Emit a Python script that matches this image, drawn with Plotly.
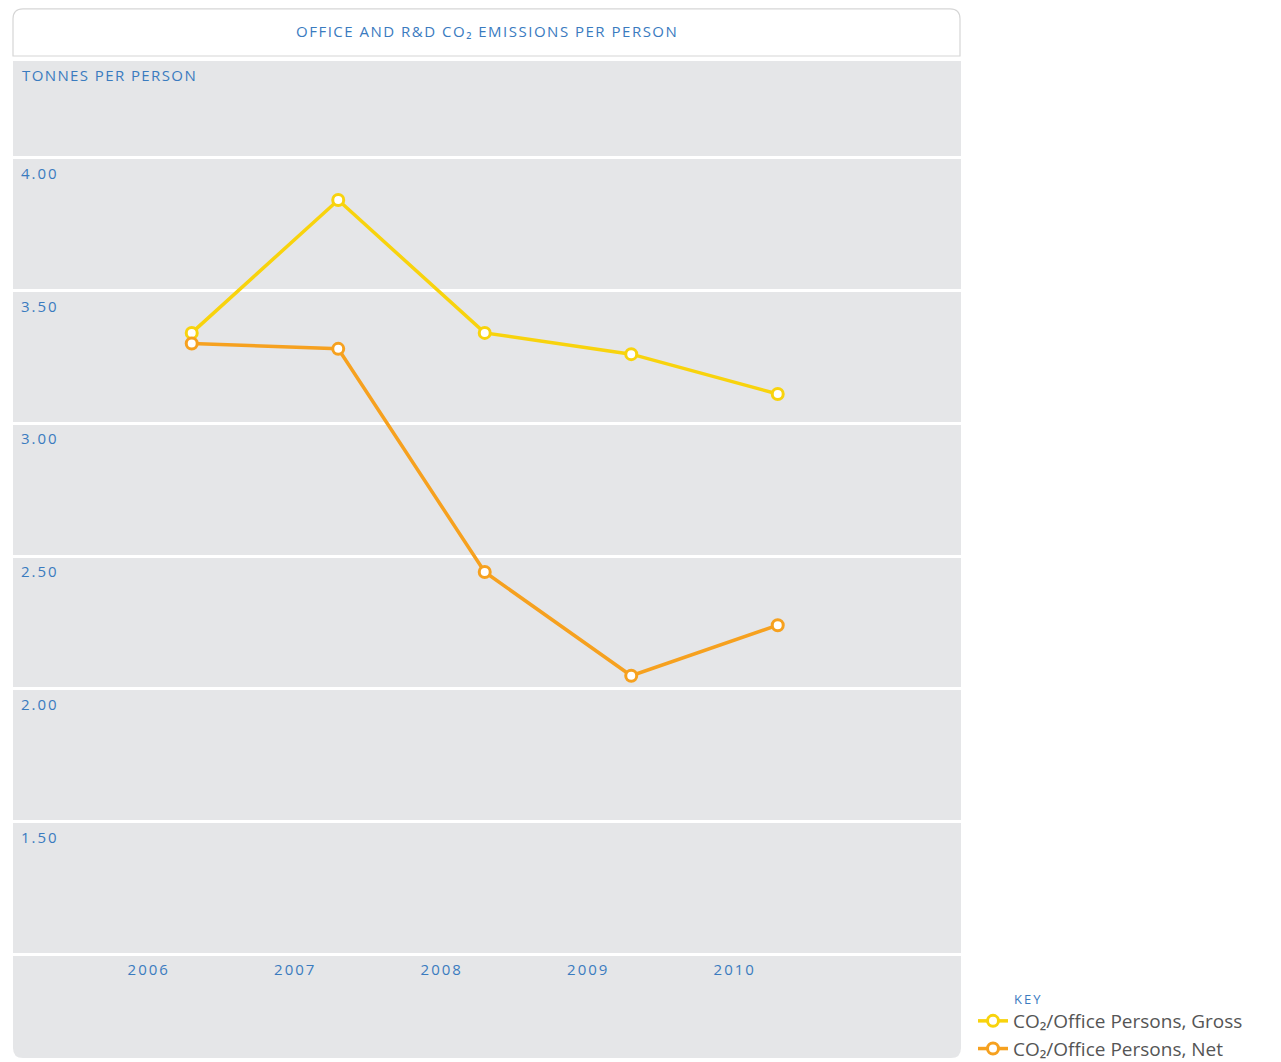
import plotly.graph_objects as go

# ---- data ----
years = ["2006", "2007", "2008", "2009", "2010"]
gross = [3.34, 3.84, 3.34, 3.26, 3.11]
net = [3.30, 3.28, 2.44, 2.05, 2.24]
y_ticks = [1.0, 1.5, 2.0, 2.5, 3.0, 3.5, 4.0]
y_ticklabels = ["", "1.50", "2.00", "2.50", "3.00", "3.50", "4.00"]
series_names = ["CO₂/Office Persons, Gross", "CO₂/Office Persons, Net"]
title_text = "OFFICE AND R&D CO₂ EMISSIONS PER PERSON"
ytitle_text = "TONNES PER PERSON"
key_text = "KEY"

# ---- style ----
BLUE = "#3a7bbf"
GREY_BG = "#e5e6e8"
YELLOW = "#f8d30d"
ORANGE = "#f6a11f"
FONT = "Open Sans, Noto Sans, sans-serif"

OFF = 8  # page body margin
W, H = 1281 - OFF, 1062 - OFF
# plot area in screen pixels
SL, SR, ST, SB = 13, 961, 61, 957
L, T = SL - OFF, ST - OFF
R = W - (SR - OFF)
B = H - (SB - OFF)
plot_w = SR - SL
plot_h = SB - ST


def px_x(sx):
    return (sx - SL) / plot_w


def px_y(sy):
    return (SB - sy) / plot_h


def ls(text, sp):
    return f'<span style="letter-spacing:{sp}px">{text}</span>'


fig = go.Figure()
colors = [YELLOW, ORANGE]
for name, vals, col in zip(series_names, [gross, net], colors):
    fig.add_trace(go.Scatter(
        x=years, y=vals, name=name, mode="lines+markers",
        line=dict(color=col, width=3.5),
        marker=dict(symbol="circle", size=11, color="white",
                    line=dict(color=col, width=3)),
        cliponaxis=False,
    ))

# rounded shapes
rx, ry = 10 / plot_w, 10 / plot_h
x0, x1 = 0.0, px_x(960)
yb, yt = px_y(56), px_y(OFF + 0.8)
title_path = (f"M {x0},{yb} L {x0},{yt-ry} Q {x0},{yt} {x0+rx},{yt} "
              f"L {x1-rx},{yt} Q {x1},{yt} {x1},{yt-ry} L {x1},{yb} Z")
bx1 = 1.0
bt, bb = 0.0, px_y(1058)
band_path = (f"M 0,{bt} L {bx1},{bt} L {bx1},{bb+ry} Q {bx1},{bb} {bx1-rx},{bb} "
             f"L {rx},{bb} Q 0,{bb} 0,{bb+ry} Z")

fig.update_layout(
    width=W, height=H,
    margin=dict(l=L, r=R, t=T, b=B, pad=0, autoexpand=False),
    paper_bgcolor="white",
    plot_bgcolor=GREY_BG,
    font=dict(family=FONT, color=BLUE),
    shapes=[
        dict(type="path", path=title_path, xref="paper", yref="paper",
             fillcolor="white", line=dict(color="#d6d6d6", width=1.2), layer="below"),
        dict(type="path", path=band_path, xref="paper", yref="paper",
             fillcolor=GREY_BG, line=dict(width=0), layer="below"),
    ],
    annotations=[
        dict(text=ls(title_text, 1.5), x=0.5, y=px_y(31), xref="paper", yref="paper",
             xanchor="center", yanchor="middle", showarrow=False,
             font=dict(size=15, color=BLUE)),
        dict(text=ls(ytitle_text, 1.4), x=px_x(20), y=px_y(75), xref="paper", yref="paper",
             xanchor="left", yanchor="middle", showarrow=False,
             font=dict(size=15, color=BLUE)),
        dict(text=ls(key_text, 2), x=px_x(1012), y=px_y(999), xref="paper", yref="paper",
             xanchor="left", yanchor="middle", showarrow=False,
             font=dict(size=13, color=BLUE)),
    ],
    xaxis=dict(
        type="category", categoryorder="array", categoryarray=years,
        range=[-1.22, 5.251], showgrid=False, zeroline=False, showline=False,
        ticks="", tickfont=dict(size=15, color=BLUE), ticklabelshift=-43,
        ticklabelstandoff=2,
        tickvals=years, ticktext=[ls(y, 2) for y in years], fixedrange=True,
    ),
    yaxis=dict(
        range=[0.9913, 4.3632], tickvals=y_ticks,
        ticktext=[ls(t, 2) for t in y_ticklabels],
        showgrid=True, gridcolor="white", gridwidth=3.3,
        zeroline=False, showline=False, ticks="",
        ticklabelposition="inside", ticklabelshift=16, ticklabelstandoff=5,
        tickfont=dict(size=15, color=BLUE), fixedrange=True,
    ),
    showlegend=True,
    legend=dict(
        x=px_x(973), y=px_y(1002), xanchor="left", yanchor="top",
        bgcolor="rgba(0,0,0,0)", borderwidth=0,
        font=dict(size=19, color="#555555", family=FONT),
        tracegroupgap=0, itemwidth=30,
    ),
)

fig.write_html("out.html")
